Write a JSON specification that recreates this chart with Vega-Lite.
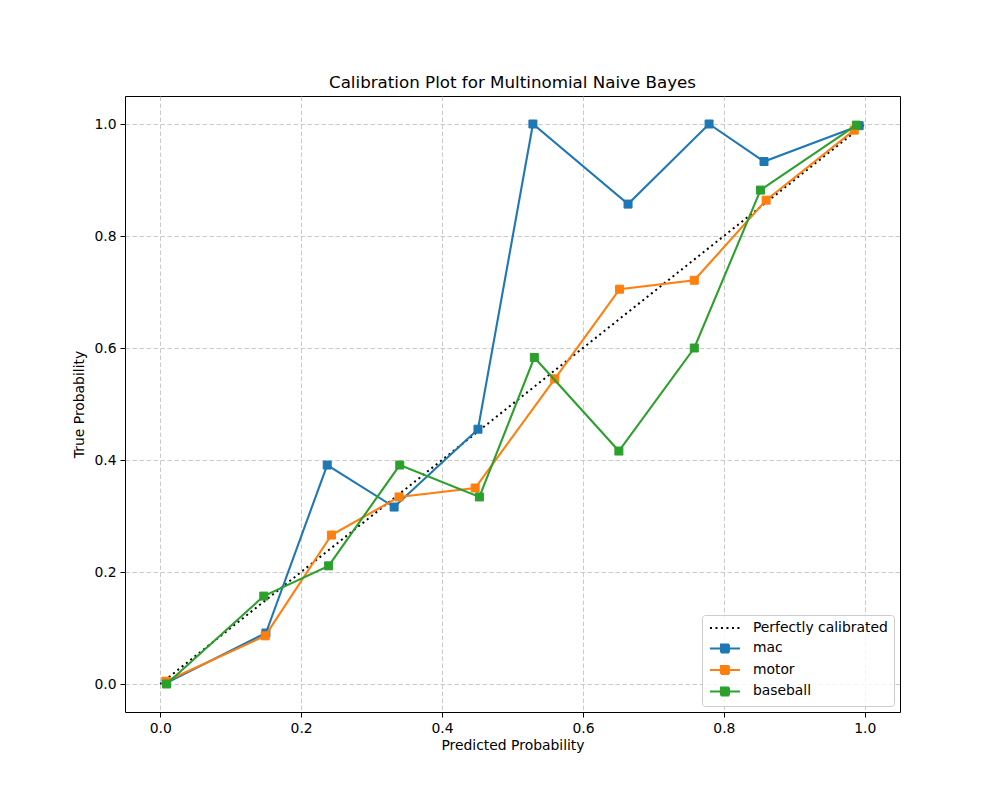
{
  "$schema": "https://vega.github.io/schema/vega-lite/v6.json",
  "autosize": {"type": "none"},
  "padding": {"left": 125, "top": 96, "right": 100, "bottom": 88},
  "width": 775,
  "height": 616,
  "title": {"text": "Calibration Plot for Multinomial Naive Bayes", "font": "DejaVu Sans", "fontSize": 16.7, "fontWeight": "normal", "color": "black", "offset": 4, "anchor": "middle"},
  "config": {
    "font": "DejaVu Sans",
    "view": {"stroke": "black", "strokeWidth": 1},
    "axis": {
      "domain": false,
      "grid": true,
      "gridColor": "#bdbdbd",
      "gridDash": [4.5, 2.5],
      "gridWidth": 0.8,
      "tickColor": "black",
      "tickSize": 5,
      "tickWidth": 1,
      "labelFont": "DejaVu Sans",
      "labelFontSize": 13.9,
      "labelColor": "black",
      "labelPadding": 4,
      "titleFont": "DejaVu Sans",
      "titleFontSize": 13.9,
      "titleFontWeight": "normal",
      "titleColor": "black"
    },
    "legend": {
      "orient": "bottom-right",
      "offset": 6,
      "padding": 6,
      "fillColor": "rgba(255,255,255,0.8)",
      "strokeColor": "#cccccc",
      "cornerRadius": 3,
      "labelFont": "DejaVu Sans",
      "labelFontSize": 13.9,
      "labelColor": "black",
      "rowPadding": 4.5,
      "symbolSize": 100,
      "labelOffset": 31,
      "symbolStrokeWidth": 2,
      "symbolOpacity": 1
    }
  },
  "datasets": {
    "perfect": [
      {"series": "Perfectly calibrated", "x": 0, "y": 0},
      {"series": "Perfectly calibrated", "x": 1, "y": 1}
    ],
    "mac": [
      {"series": "mac", "x": 0.009, "y": 0.002},
      {"series": "mac", "x": 0.150, "y": 0.091},
      {"series": "mac", "x": 0.237, "y": 0.391},
      {"series": "mac", "x": 0.332, "y": 0.316},
      {"series": "mac", "x": 0.451, "y": 0.455},
      {"series": "mac", "x": 0.529, "y": 1.0},
      {"series": "mac", "x": 0.664, "y": 0.857},
      {"series": "mac", "x": 0.779, "y": 1.0},
      {"series": "mac", "x": 0.857, "y": 0.933},
      {"series": "mac", "x": 0.992, "y": 0.997}
    ],
    "motor": [
      {"series": "motor", "x": 0.008, "y": 0.005},
      {"series": "motor", "x": 0.149, "y": 0.086},
      {"series": "motor", "x": 0.243, "y": 0.266},
      {"series": "motor", "x": 0.339, "y": 0.334},
      {"series": "motor", "x": 0.447, "y": 0.350},
      {"series": "motor", "x": 0.560, "y": 0.545},
      {"series": "motor", "x": 0.652, "y": 0.705},
      {"series": "motor", "x": 0.758, "y": 0.721},
      {"series": "motor", "x": 0.860, "y": 0.864},
      {"series": "motor", "x": 0.985, "y": 0.989}
    ],
    "baseball": [
      {"series": "baseball", "x": 0.009, "y": 0.0},
      {"series": "baseball", "x": 0.147, "y": 0.157},
      {"series": "baseball", "x": 0.239, "y": 0.211},
      {"series": "baseball", "x": 0.340, "y": 0.391},
      {"series": "baseball", "x": 0.453, "y": 0.334},
      {"series": "baseball", "x": 0.531, "y": 0.583},
      {"series": "baseball", "x": 0.651, "y": 0.416},
      {"series": "baseball", "x": 0.758, "y": 0.600},
      {"series": "baseball", "x": 0.852, "y": 0.882},
      {"series": "baseball", "x": 0.988, "y": 0.998}
    ]
  },
  "encoding": {
    "x": {"field": "x", "type": "quantitative", "title": "Predicted Probability",
      "scale": {"domain": [-0.05, 1.05], "nice": false, "zero": false},
      "axis": {"values": [0, 0.2, 0.4, 0.6, 0.8, 1.0], "format": ".1f", "titlePadding": 4}},
    "y": {"field": "y", "type": "quantitative", "title": "True Probability",
      "scale": {"domain": [-0.05, 1.05], "nice": false, "zero": false},
      "axis": {"values": [0, 0.2, 0.4, 0.6, 0.8, 1.0], "format": ".1f", "titlePadding": 7}}
  },
  "layer": [
    {"data": {"name": "perfect"}, "mark": {"type": "line", "color": "black", "strokeWidth": 2, "strokeDash": [2, 3.5]}, "encoding": {}},
    {"data": {"name": "mac"}, "mark": {"type": "line", "color": "#1f77b4", "strokeWidth": 2.1}, "encoding": {}},
    {"data": {"name": "mac"}, "mark": {"type": "point", "shape": "square", "filled": true, "size": 64, "strokeWidth": 1, "opacity": 1},
      "encoding": {
        "fill": {"field": "series", "type": "nominal", "scale": {"domain": ["Perfectly calibrated", "mac", "motor", "baseball"], "range": ["black", "#1f77b4", "#ff7f0e", "#2ca02c"]},
          "legend": {"title": null, "symbolType": {"expr": "datum.value === 'Perfectly calibrated' ? 'M-1,0H5' : 'M-1,0H5M1.2,-0.8H2.8V0.8H1.2Z'"}, "symbolDash": {"expr": "datum.value === 'Perfectly calibrated' ? [2, 3.5] : [1, 0]"}}},
        "stroke": {"field": "series", "type": "nominal", "scale": {"domain": ["Perfectly calibrated", "mac", "motor", "baseball"], "range": ["black", "#1f77b4", "#ff7f0e", "#2ca02c"]},
          "legend": {"title": null, "symbolType": {"expr": "datum.value === 'Perfectly calibrated' ? 'M-1,0H5' : 'M-1,0H5M1.2,-0.8H2.8V0.8H1.2Z'"}, "symbolDash": {"expr": "datum.value === 'Perfectly calibrated' ? [2, 3.5] : [1, 0]"}}}
      }},
    {"data": {"name": "motor"}, "mark": {"type": "line", "color": "#ff7f0e", "strokeWidth": 2.1}, "encoding": {}},
    {"data": {"name": "motor"}, "mark": {"type": "point", "shape": "square", "filled": true, "size": 64, "strokeWidth": 1, "opacity": 1},
      "encoding": {
        "fill": {"field": "series", "type": "nominal", "scale": {"domain": ["Perfectly calibrated", "mac", "motor", "baseball"], "range": ["black", "#1f77b4", "#ff7f0e", "#2ca02c"]},
          "legend": {"title": null, "symbolType": {"expr": "datum.value === 'Perfectly calibrated' ? 'M-1,0H5' : 'M-1,0H5M1.2,-0.8H2.8V0.8H1.2Z'"}, "symbolDash": {"expr": "datum.value === 'Perfectly calibrated' ? [2, 3.5] : [1, 0]"}}},
        "stroke": {"field": "series", "type": "nominal", "scale": {"domain": ["Perfectly calibrated", "mac", "motor", "baseball"], "range": ["black", "#1f77b4", "#ff7f0e", "#2ca02c"]},
          "legend": {"title": null, "symbolType": {"expr": "datum.value === 'Perfectly calibrated' ? 'M-1,0H5' : 'M-1,0H5M1.2,-0.8H2.8V0.8H1.2Z'"}, "symbolDash": {"expr": "datum.value === 'Perfectly calibrated' ? [2, 3.5] : [1, 0]"}}}
      }},
    {"data": {"name": "baseball"}, "mark": {"type": "line", "color": "#2ca02c", "strokeWidth": 2.1}, "encoding": {}},
    {"data": {"name": "baseball"}, "mark": {"type": "point", "shape": "square", "filled": true, "size": 64, "strokeWidth": 1, "opacity": 1},
      "encoding": {
        "fill": {"field": "series", "type": "nominal", "scale": {"domain": ["Perfectly calibrated", "mac", "motor", "baseball"], "range": ["black", "#1f77b4", "#ff7f0e", "#2ca02c"]},
          "legend": {"title": null, "symbolType": {"expr": "datum.value === 'Perfectly calibrated' ? 'M-1,0H5' : 'M-1,0H5M1.2,-0.8H2.8V0.8H1.2Z'"}, "symbolDash": {"expr": "datum.value === 'Perfectly calibrated' ? [2, 3.5] : [1, 0]"}}},
        "stroke": {"field": "series", "type": "nominal", "scale": {"domain": ["Perfectly calibrated", "mac", "motor", "baseball"], "range": ["black", "#1f77b4", "#ff7f0e", "#2ca02c"]},
          "legend": {"title": null, "symbolType": {"expr": "datum.value === 'Perfectly calibrated' ? 'M-1,0H5' : 'M-1,0H5M1.2,-0.8H2.8V0.8H1.2Z'"}, "symbolDash": {"expr": "datum.value === 'Perfectly calibrated' ? [2, 3.5] : [1, 0]"}}}
      }}
  ]
}
